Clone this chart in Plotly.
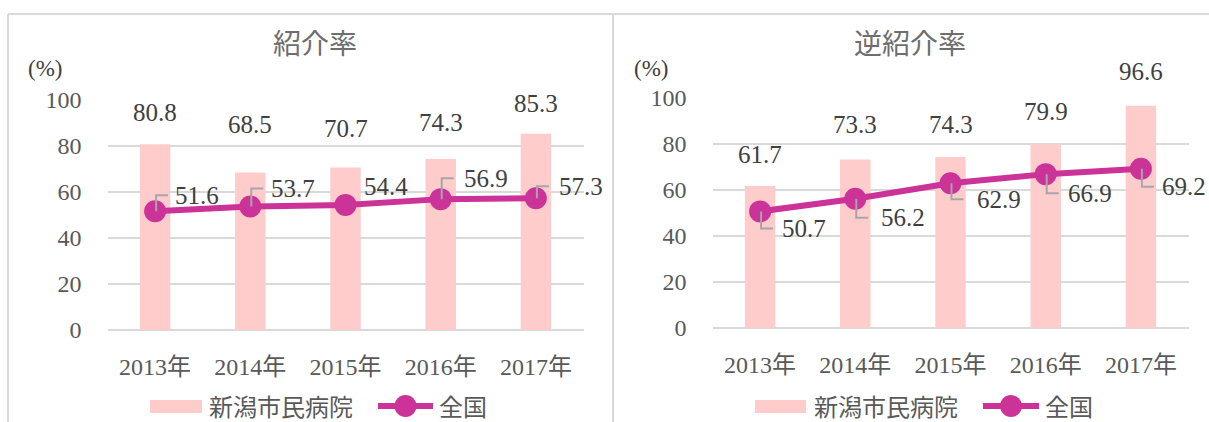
import plotly.graph_objects as go

# ---------------- data ----------------
years = ["2013年", "2014年", "2015年", "2016年", "2017年"]
intro_hospital = [80.8, 68.5, 70.7, 74.3, 85.3]      # 紹介率 新潟市民病院
intro_national = [51.6, 53.7, 54.4, 56.9, 57.3]      # 紹介率 全国
rev_hospital = [61.7, 73.3, 74.3, 79.9, 96.6]        # 逆紹介率 新潟市民病院
rev_national = [50.7, 56.2, 62.9, 66.9, 69.2]        # 逆紹介率 全国
titles = ["紹介率", "逆紹介率"]
series_names = ["新潟市民病院", "全国"]
y_ticks = [0, 20, 40, 60, 80, 100]

# label placement (pixel offsets, styles kept separate from data)
bar_label_lift = [[32, 48, 39, 37, 30], [32, 35, 33, 33, 34]]
line_label_dx = [[42, 43, 40, 45, 45], [44, 48, 48, 44, 43]]
line_label_dy = [[16, 18, 18, 21, 12], [-17, -19, -16, -19, -18]]
line_leader = [[True, True, False, True, True], [True, True, True, True, True]]

W, H = 1209, 422
BAR_C = "#FFCCCC"
LINE_C = "#CC3399"
GRID_C = "#D9D9D9"
TXT_C = "#595959"
LBL_C = "#404040"
TITLE_C = "#6E6E6E"
FONT = "Liberation Serif, Noto Sans CJK JP, serif"
CJK = "Noto Sans CJK JP, Liberation Serif"


def px(x):
    return x / W


def py(y):
    return 1 - y / H


fig = go.Figure()

panels = [
    dict(hosp=intro_hospital, nat=intro_national, xa="x", ya="y",
         xdom=[px(107.5), px(583.5)], ydom=[py(330), py(100)]),
    dict(hosp=rev_hospital, nat=rev_national, xa="x2", ya="y2",
         xdom=[px(712.5), px(1188.5)], ydom=[py(328), py(98)]),
]

annotations = []
shapes = []

for i, p in enumerate(panels):
    fig.add_trace(go.Bar(x=years, y=p["hosp"], name=series_names[0],
                         marker=dict(color=BAR_C, line=dict(width=0)),
                         width=0.32, xaxis=p["xa"], yaxis=p["ya"],
                         showlegend=False))
    fig.add_trace(go.Scatter(x=years, y=p["nat"], name=series_names[1],
                             mode="lines+markers",
                             line=dict(color=LINE_C, width=6),
                             marker=dict(color=LINE_C, size=22),
                             xaxis=p["xa"], yaxis=p["ya"], showlegend=False))
    for j, yr in enumerate(years):
        v = p["hosp"][j]
        annotations.append(dict(x=yr, y=v, xref=p["xa"], yref=p["ya"],
                                text=f"{v:.1f}", showarrow=False,
                                xanchor="center", yanchor="middle",
                                yshift=bar_label_lift[i][j],
                                font=dict(family=FONT, size=25, color=LBL_C)))
        n = p["nat"][j]
        dx = line_label_dx[i][j]
        dy = line_label_dy[i][j]
        annotations.append(dict(x=yr, y=n, xref=p["xa"], yref=p["ya"],
                                text=f"{n:.1f}", showarrow=False,
                                xanchor="center", yanchor="middle",
                                xshift=dx, yshift=dy,
                                font=dict(family=FONT, size=25, color=LBL_C)))
        if line_leader[i][j]:
            shapes.append(dict(type="path", xref=p["xa"], yref=p["ya"],
                               xsizemode="pixel", ysizemode="pixel",
                               xanchor=yr, yanchor=n,
                               path=f"M1,0 L1,{dy} L13,{dy}",
                               line=dict(color="#A6A6A6", width=2),
                               layer="above"))

axis_common_x = dict(type="category", range=[-0.5, len(years) - 0.5],
                     showgrid=False, showline=False,
                     zeroline=False, ticks="", automargin=False,
                     tickfont=dict(family=FONT, size=24, color=TXT_C),
                     ticklabelstandoff=20, fixedrange=True)
axis_common_y = dict(range=[0, 100], tickvals=y_ticks, showgrid=True,
                     gridcolor=GRID_C, gridwidth=1.5, zeroline=True,
                     zerolinecolor=GRID_C, zerolinewidth=1.5,
                     showline=False, ticks="", automargin=False,
                     tickfont=dict(family=FONT, size=24, color=TXT_C),
                     ticklabelstandoff=25, fixedrange=True)

fig.update_layout(
    xaxis=dict(domain=panels[0]["xdom"], anchor="y", **axis_common_x),
    yaxis=dict(domain=panels[0]["ydom"], anchor="x", **axis_common_y),
    xaxis2=dict(domain=panels[1]["xdom"], anchor="y2", **axis_common_x),
    yaxis2=dict(domain=panels[1]["ydom"], anchor="x2", **axis_common_y),
)

# titles and unit labels
for cx, title in zip([314.5, 909.5], titles):
    annotations.append(dict(x=px(cx), y=py(42), xref="paper", yref="paper",
                            text=title, showarrow=False, xanchor="center",
                            yanchor="middle",
                            font=dict(family=CJK, size=28, color=TITLE_C)))
for cx, cy in [(45, 68), (651, 69)]:
    annotations.append(dict(x=px(cx), y=py(cy), xref="paper", yref="paper",
                            text="(%)", showarrow=False, xanchor="center",
                            yanchor="middle",
                            font=dict(family=FONT, size=23, color=LBL_C)))

# manual legends
for (rx0, rx1, tx1, lx0, lx1, tx2) in [(150, 202, 207, 378, 433, 437),
                                       (755, 806, 812, 983, 1039, 1043)]:
    shapes.append(dict(type="rect", xref="paper", yref="paper",
                       x0=px(rx0), x1=px(rx1), y0=py(413), y1=py(400),
                       fillcolor=BAR_C, line=dict(width=0)))
    shapes.append(dict(type="line", xref="paper", yref="paper",
                       x0=px(lx0), x1=px(lx1), y0=py(406), y1=py(406),
                       line=dict(color=LINE_C, width=6)))
    cx = (lx0 + lx1) / 2
    shapes.append(dict(type="circle", xref="paper", yref="paper",
                       x0=px(cx - 11), x1=px(cx + 11), y0=py(417), y1=py(395),
                       fillcolor=LINE_C, line=dict(width=0)))
    annotations.append(dict(x=px(tx1), y=py(405), xref="paper", yref="paper",
                            text=series_names[0], showarrow=False,
                            xanchor="left", yanchor="middle",
                            font=dict(family=CJK, size=24, color=TXT_C)))
    annotations.append(dict(x=px(tx2), y=py(405), xref="paper", yref="paper",
                            text=series_names[1], showarrow=False,
                            xanchor="left", yanchor="middle",
                            font=dict(family=CJK, size=24, color=TXT_C)))

# chart frames
for s in [dict(x0=px(8), x1=1.0, y0=py(14), y1=py(14)),
          dict(x0=px(8), x1=px(8), y0=py(14), y1=0),
          dict(x0=px(613), x1=px(613), y0=py(14), y1=0)]:
    shapes.append(dict(type="line", xref="paper", yref="paper",
                       line=dict(color=GRID_C, width=2), **s))

fig.update_layout(
    width=W, height=H,
    margin=dict(l=0, r=0, t=0, b=0, pad=0, autoexpand=False),
    paper_bgcolor="white", plot_bgcolor="white",
    showlegend=False, bargap=0.68,
    annotations=annotations, shapes=shapes,
)

fig.write_html("out.html")
